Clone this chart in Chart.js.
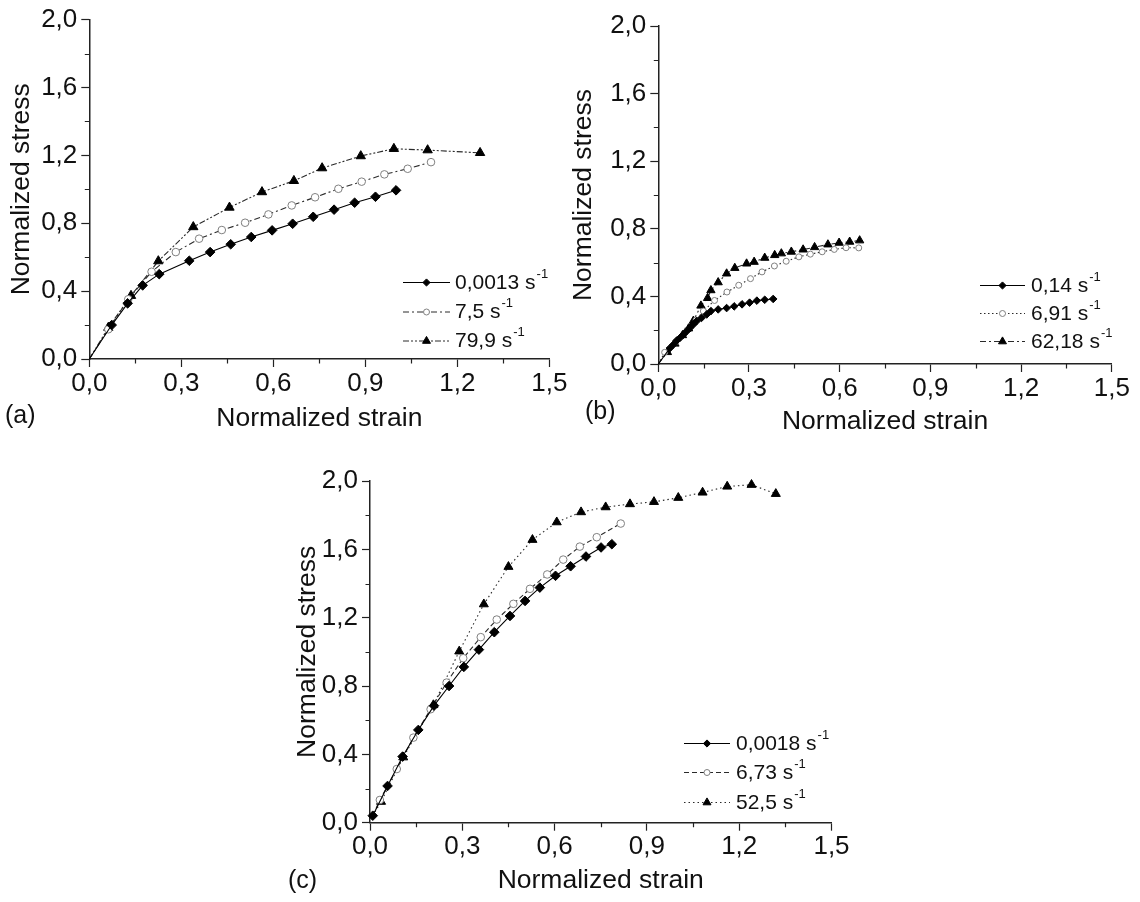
<!DOCTYPE html>
<html>
<head>
<meta charset="utf-8">
<script src="https://cdn.jsdelivr.net/npm/chart.js@4.4.1/dist/chart.umd.min.js"></script>
<style>
  html, body { margin: 0; padding: 0; background: #fff; }
  body { width: 1140px; height: 902px; position: relative; overflow: hidden;
         font-family: "Liberation Sans", Arial, sans-serif; }
  canvas { position: absolute; display: block; }
  .tag { position: absolute; font-size: 25px; line-height: 26px; color: #111; }
</style>
</head>
<body>
<canvas id="chartA" width="570" height="440" style="left:0px;top:0px"></canvas>
<canvas id="chartB" width="575" height="440" style="left:565px;top:0px"></canvas>
<canvas id="chartC" width="580" height="457" style="left:280px;top:445px"></canvas>
<div class="tag" style="left:5px;top:401px">(a)</div>
<div class="tag" style="left:585px;top:397px">(b)</div>
<div class="tag" style="left:288px;top:866px">(c)</div>

<script>
// ---- axis ticks ----
const strainTicks = [0, 0.3, 0.6, 0.9, 1.2, 1.5];
const stressTicks = [0, 0.4, 0.8, 1.2, 1.6, 2.0];
const strainMinor = [0.15, 0.45, 0.75, 1.05, 1.35];
const stressMinor = [0.2, 0.6, 1.0, 1.4, 1.8];

// ---- panel (a) ----
const aRates = ['0,0013', '7,5', '79,9'];
const aSlowStrain = [0, 0.073, 0.125, 0.174, 0.228, 0.326, 0.394, 0.461, 0.528, 0.596, 0.663, 0.730, 0.798, 0.865, 0.933, 1.000];
const aSlowStress = [0, 0.200, 0.328, 0.434, 0.500, 0.579, 0.630, 0.676, 0.719, 0.758, 0.797, 0.838, 0.880, 0.921, 0.956, 0.994];
const aMidStrain  = [0, 0.062, 0.127, 0.203, 0.282, 0.358, 0.432, 0.508, 0.584, 0.660, 0.736, 0.812, 0.888, 0.962, 1.038, 1.114];
const aMidStress  = [0, 0.175, 0.352, 0.514, 0.630, 0.709, 0.760, 0.803, 0.852, 0.905, 0.953, 1.003, 1.045, 1.088, 1.121, 1.160];
const aFastStrain = [0, 0.062, 0.136, 0.225, 0.339, 0.457, 0.563, 0.667, 0.759, 0.885, 0.993, 1.103, 1.274];
const aFastStress = [0, 0.185, 0.373, 0.577, 0.778, 0.893, 0.984, 1.050, 1.125, 1.196, 1.239, 1.231, 1.215];

// ---- panel (b) ----
const bRates = ['0,14', '6,91', '62,18'];
const bSlowStrain = [0, 0.039, 0.050, 0.061, 0.072, 0.083, 0.094, 0.105, 0.116, 0.127, 0.143, 0.160, 0.174, 0.198, 0.226, 0.251, 0.277, 0.302, 0.326, 0.352, 0.380];
const bSlowStress = [0, 0.095, 0.115, 0.139, 0.155, 0.174, 0.194, 0.214, 0.234, 0.254, 0.273, 0.293, 0.313, 0.323, 0.331, 0.341, 0.353, 0.363, 0.375, 0.380, 0.385];
const bMidStrain  = [0, 0.021, 0.058, 0.095, 0.125, 0.149, 0.186, 0.227, 0.266, 0.305, 0.343, 0.384, 0.423, 0.465, 0.503, 0.542, 0.582, 0.621, 0.663];
const bMidStress  = [0, 0.069, 0.130, 0.200, 0.260, 0.313, 0.376, 0.426, 0.466, 0.505, 0.545, 0.580, 0.608, 0.634, 0.650, 0.664, 0.678, 0.688, 0.687];
const bFastStrain = [0, 0.030, 0.055, 0.080, 0.100, 0.116, 0.141, 0.163, 0.174, 0.198, 0.226, 0.253, 0.292, 0.317, 0.352, 0.385, 0.407, 0.440, 0.479, 0.517, 0.561, 0.598, 0.633, 0.666];
const bFastStress = [0, 0.070, 0.120, 0.170, 0.210, 0.255, 0.345, 0.390, 0.436, 0.483, 0.535, 0.568, 0.594, 0.604, 0.628, 0.644, 0.654, 0.664, 0.677, 0.691, 0.707, 0.717, 0.723, 0.731];

// ---- panel (c) ----
const cRates = ['0,0018', '6,73', '52,5'];
const cSlowStrain = [0.009, 0.057, 0.106, 0.157, 0.208, 0.257, 0.305, 0.354, 0.404, 0.455, 0.504, 0.552, 0.603, 0.652, 0.702, 0.751, 0.786];
const cSlowStress = [0.041, 0.215, 0.387, 0.543, 0.685, 0.800, 0.912, 1.013, 1.115, 1.210, 1.298, 1.376, 1.445, 1.501, 1.558, 1.611, 1.630];
const cMidStrain  = [0.009, 0.032, 0.087, 0.141, 0.197, 0.249, 0.303, 0.360, 0.412, 0.466, 0.520, 0.576, 0.628, 0.682, 0.737, 0.815];
const cMidStress  = [0.041, 0.133, 0.314, 0.498, 0.664, 0.820, 0.963, 1.086, 1.189, 1.281, 1.369, 1.453, 1.540, 1.616, 1.671, 1.751];
const cFastStrain = [0.009, 0.036, 0.108, 0.206, 0.290, 0.370, 0.450, 0.528, 0.607, 0.686, 0.766, 0.845, 0.923, 1.002, 1.081, 1.161, 1.240, 1.319];
const cFastStress = [0.041, 0.123, 0.383, 0.689, 1.003, 1.279, 1.498, 1.656, 1.759, 1.818, 1.847, 1.865, 1.878, 1.902, 1.933, 1.968, 1.978, 1.925];

const FONT = '"Liberation Sans", Arial, sans-serif';
const INK = '#111';
const fmt = v => v.toFixed(1).replace('.', ',');

// one curve: solid diamonds, open circles or solid triangles
function series(rate, xs, ys, kind, dash, size, hideFirst) {
  const marker = {
    diamond:  { style: 'rectRot',  fill: '#000', edge: '#000' },
    circle:   { style: 'circle',   fill: '#fff', edge: '#808080' },
    triangle: { style: 'triangle', fill: '#000', edge: '#000' }
  }[kind];
  return {
    label: rate,
    data: xs.map((x, i) => ({ x: x, y: ys[i] })),
    showLine: true,
    borderColor: kind === 'diamond' ? '#000' : '#2a2a2a',
    borderWidth: 1.1,
    borderDash: dash,
    pointStyle: marker.style,
    pointRadius: xs.map((x, i) => (hideFirst && i === 0) ? 0 : size),
    pointBackgroundColor: marker.fill,
    pointBorderColor: marker.edge,
    pointBorderWidth: 1,
    tension: 0,
    clip: false,
    legendMarker: { style: marker.style, fill: marker.fill, edge: marker.edge,
                    r: kind === 'triangle' ? 4.6 : (kind === 'circle' ? 3 : 3.6) }
  };
}

// short minor ticks between the labelled ones
const minorTicks = {
  id: 'minorTicks',
  afterDraw(chart) {
    const { ctx, scales: { x, y } } = chart;
    ctx.save();
    ctx.strokeStyle = '#222';
    ctx.lineWidth = 1.2;
    ctx.beginPath();
    strainMinor.forEach(v => {
      const px = Math.round(x.getPixelForValue(v)) + 0.5;
      ctx.moveTo(px, y.bottom); ctx.lineTo(px, y.bottom + 4.5);
    });
    stressMinor.forEach(v => {
      const py = Math.round(y.getPixelForValue(v)) + 0.5;
      ctx.moveTo(x.left, py); ctx.lineTo(x.left - 4.5, py);
    });
    ctx.stroke();
    ctx.restore();
  }
};

// strain-rate key: line sample, marker, rate in s^-1
const rateLegend = {
  id: 'rateLegend',
  afterDraw(chart, args, opts) {
    const ctx = chart.ctx;
    chart.data.datasets.forEach((ds, i) => {
      const yy = opts.rows[i];
      ctx.save();
      ctx.strokeStyle = ds.borderColor;
      ctx.lineWidth = 1;
      ctx.setLineDash(ds.borderDash || []);
      ctx.beginPath();
      ctx.moveTo(opts.x0, yy + 0.5); ctx.lineTo(opts.x1, yy + 0.5);
      ctx.stroke();
      ctx.setLineDash([]);
      const m = ds.legendMarker;
      ctx.fillStyle = m.fill;
      ctx.strokeStyle = m.edge;
      ctx.lineWidth = 1;
      Chart.helpers.drawPoint(ctx, { pointStyle: m.style, rotation: 0, radius: m.r, borderWidth: 1 },
                              (opts.x0 + opts.x1) / 2, yy + 0.5);
      ctx.fillStyle = INK;
      ctx.textBaseline = 'middle';
      ctx.textAlign = 'left';
      ctx.font = '21px ' + FONT;
      const main = ds.label + ' s';
      ctx.fillText(main, opts.tx, yy + 1);
      const w = ctx.measureText(main).width;
      ctx.font = '13px ' + FONT;
      ctx.fillText('-1', opts.tx + w + 1, yy - 8);
      ctx.restore();
    });
  }
};

function makeChart(id, cfg) {
  const axisBase = {
    type: 'linear',
    grid: { drawOnChartArea: false, drawTicks: true, tickLength: 8, tickColor: '#222', tickWidth: 1.2 },
    border: { display: true, color: '#222', width: 1.5 },
  };
  return new Chart(document.getElementById(id), {
    type: 'scatter',
    data: { datasets: cfg.datasets },
    options: {
      responsive: false,
      devicePixelRatio: 1,
      animation: false,
      events: [],
      layout: { padding: { left: 0, top: cfg.padTop, right: cfg.padRight, bottom: 0 } },
      plugins: {
        legend: { display: false },
        tooltip: { enabled: false },
        rateLegend: cfg.legend
      },
      scales: {
        x: Object.assign({}, axisBase, {
          min: 0, max: 1.5,
          afterBuildTicks: s => { s.ticks = strainTicks.map(v => ({ value: v })); },
          afterFit: s => { s.height = cfg.xH; },
          ticks: { callback: v => fmt(v), color: INK, padding: 1, maxRotation: 0, autoSkip: false,
                   font: { family: FONT, size: 26, lineHeight: 1.2 } },
          title: { display: true, text: 'Normalized strain', color: INK,
                   font: { family: FONT, size: 26.5, lineHeight: 1.2 }, padding: { top: 0, bottom: cfg.xTitlePad } }
        }),
        y: Object.assign({}, axisBase, {
          min: 0, max: 2.0,
          afterBuildTicks: s => { s.ticks = stressTicks.map(v => ({ value: v })); },
          afterFit: s => { s.width = cfg.yW; },
          ticks: { callback: v => fmt(v), color: INK, padding: 4, autoSkip: false,
                   font: { family: FONT, size: 26, lineHeight: 1.2 } },
          title: { display: true, text: 'Normalized stress', color: INK,
                   font: { family: FONT, size: 26.5, lineHeight: 1.2 }, padding: { top: cfg.yTitlePad, bottom: 0 } }
        })
      }
    },
    plugins: [minorTicks, rateLegend]
  });
}

makeChart('chartA', {
  padTop: 19.5, padRight: 20.6, yW: 89.3, xH: 81, yTitlePad: 6.0, xTitlePad: 5.0,
  legend: { x0: 403, x1: 450, tx: 455, rows: [282, 311.5, 340.5] },
  datasets: [
    series(aRates[0], aSlowStrain, aSlowStress, 'diamond', [], 4.8, true),
    series(aRates[1], aMidStrain, aMidStress, 'circle', [6, 3, 2, 3], 3.8, true),
    series(aRates[2], aFastStrain, aFastStress, 'triangle', [6, 2, 2, 2, 2, 2], 5.4, true)
  ]
});

makeChart('chartB', {
  padTop: 26, padRight: 28.2, yW: 93.3, xH: 76, yTitlePad: 3.0, xTitlePad: 2.0,
  legend: { x0: 415, x1: 460, tx: 466, rows: [285, 313, 341] },
  datasets: [
    series(bRates[0], bSlowStrain, bSlowStress, 'diamond', [], 3.8, true),
    series(bRates[1], bMidStrain, bMidStress, 'circle', [1.5, 2.5], 3, true),
    series(bRates[2], bFastStrain, bFastStress, 'triangle', [6, 3, 2, 3], 4.8, true)
  ]
});

makeChart('chartC', {
  padTop: 36, padRight: 28.5, yW: 90, xH: 79.3, yTitlePad: 12.0, xTitlePad: 5.0,
  legend: { x0: 404, x1: 450, tx: 456, rows: [298, 327, 357] },
  datasets: [
    series(cRates[0], cSlowStrain, cSlowStress, 'diamond', [], 4.8, false),
    series(cRates[1], cMidStrain, cMidStress, 'circle', [5, 3], 3.8, true),
    series(cRates[2], cFastStrain, cFastStress, 'triangle', [1.5, 3], 5.2, true)
  ]
});
</script>
</body>
</html>
